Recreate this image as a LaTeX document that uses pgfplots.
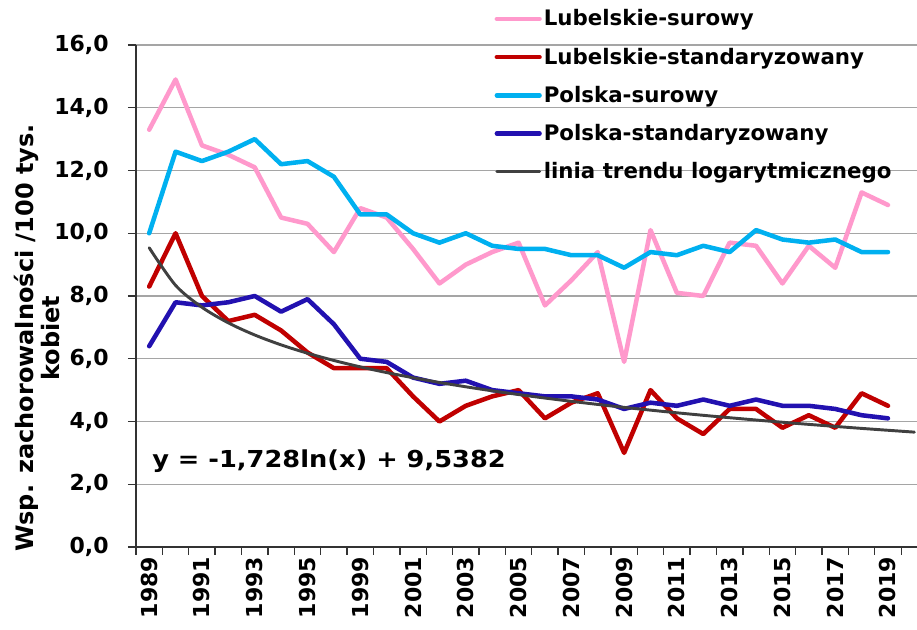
\documentclass[border=0pt]{standalone}
\usepackage{fontspec}
\setmainfont{DejaVu Sans}
\newfontfamily\eqfont{DejaVu Sans}[FakeStretch=1.1]
\usepackage{pgfplots}
\pgfplotsset{compat=1.18}

\definecolor{lubsur}{RGB}{255,153,204}
\definecolor{lubstd}{RGB}{192,0,0}
\definecolor{plsur}{RGB}{0,176,240}
\definecolor{plstd}{RGB}{34,17,176}
\definecolor{trendc}{RGB}{64,64,64}
\definecolor{gridc}{RGB}{165,165,165}
\newcommand{\chartfont}{\fontsize{16.5pt}{18.75pt}\selectfont\bfseries}

% idx 0 = 1989 ... idx 28 = 2019
\pgfplotstableread{
idx lubsur lubstd plsur plstd
0  13.3 8.3  10.0 6.4
1  14.9 10.0 12.6 7.8
2  12.8 8.0  12.3 7.7
3  12.5 7.2  12.6 7.8
4  12.1 7.4  13.0 8.0
5  10.5 6.9  12.2 7.5
6  10.3 6.2  12.3 7.9
7  9.4  5.7  11.8 7.1
8  10.8 5.7  10.6 6.0
9  10.5 5.7  10.6 5.9
10 9.5  4.8  10.0 5.4
11 8.4  4.0  9.7  5.2
12 9.0  4.5  10.0 5.3
13 9.4  4.8  9.6  5.0
14 9.7  5.0  9.5  4.9
15 7.7  4.1  9.5  4.8
16 8.5  4.6  9.3  4.8
17 9.4  4.9  9.3  4.7
18 5.9  3.0  8.9  4.4
19 10.1 5.0  9.4  4.6
20 8.1  4.1  9.3  4.5
21 8.0  3.6  9.6  4.7
22 9.7  4.4  9.4  4.5
23 9.6  4.4  10.1 4.7
24 8.4  3.8  9.8  4.5
25 9.6  4.2  9.7  4.5
26 8.9  3.8  9.8  4.4
27 11.3 4.9  9.4  4.2
28 10.9 4.5  9.4  4.1
}\datatable

% logarithmic trend line values, y = -1.728 ln(x) + 9.5382
\pgfplotstableread{
idx trend
0  9.538
1  8.340
2  7.640
3  7.143
4  6.757
5  6.442
6  6.176
7  5.945
8  5.741
9  5.559
10 5.395
11 5.244
12 5.106
13 4.978
14 4.859
15 4.747
16 4.642
17 4.544
18 4.450
19 4.362
20 4.277
21 4.197
22 4.120
23 4.047
24 3.976
25 3.908
26 3.843
27 3.780
28 3.720
29 3.661
}\trendtable

\begin{document}
\begin{tikzpicture}
\begin{axis}[
    name=ax,
    scale only axis,
    width=585.75pt, height=376.5pt,
    xmin=-0.5, xmax=29.1,
    ymin=0, ymax=16,
    clip=false,
    axis x line*=bottom, axis y line*=left,
    axis line style={black!80, line width=1pt},
    tick style={black!80, line width=1pt},
    major tick length=6pt,
    tick align=outside,
    ytick={0,2,...,16},
    ymajorgrids,
    grid style={gridc, line width=1pt},
    yticklabel style={font=\chartfont, xshift=-11pt,
        /pgf/number format/.cd, fixed, fixed zerofill, precision=1, use comma, assume math mode=true},
    xtick={-0.5,0.5,...,28.5},
    xticklabels={},
    extra x ticks={0,2,...,28},
    extra x tick labels={1989,1991,1993,1995,1999,2001,2003,2005,2007,2009,2011,2013,2015,2017,2019},
    extra x tick style={major tick length=0pt,
        xticklabel style={font=\chartfont, yshift=-4pt, rotate=90, anchor=east}},
    legend style={at={(axis cs:12.93,17.45)}, anchor=north west, draw=none, fill=none,
        font=\fontsize{16pt}{18pt}\selectfont\bfseries, row sep=4pt,
        nodes={inner xsep=1.5pt, inner ysep=5.5pt}},
    legend cell align=left,
    legend image code/.code={\draw[#1] (0pt,0pt) -- (32pt,0pt);},
    every axis plot/.append style={line width=3.4pt, line join=round, line cap=round},
]
\addplot[lubsur] table[x=idx, y=lubsur] {\datatable};
\addlegendentry{Lubelskie-surowy}
\addplot[lubstd] table[x=idx, y=lubstd] {\datatable};
\addlegendentry{Lubelskie-standaryzowany}
\addplot[plsur] table[x=idx, y=plsur] {\datatable};
\addlegendentry{Polska-surowy}
\addplot[plstd] table[x=idx, y=plstd] {\datatable};
\addlegendentry{Polska-standaryzowany}
\addplot[trendc, line width=2.2pt, smooth] table[x=idx, y=trend] {\trendtable};
\addlegendentry{linia trendu logarytmicznego}

\node[anchor=base west, inner sep=0pt, font=\eqfont\fontsize{17.5pt}{20pt}\selectfont\bfseries]
    at (axis cs:0.107,2.52) {y = -1,728ln(x) + 9,5382};
\node[rotate=90, align=center, font=\fontsize{18pt}{20pt}\selectfont\bfseries]
    at ([xshift=-74.25pt]rel axis cs:0,0.416) {Wsp. zachorowalności /100 tys.\\kobiet};
\end{axis}
\pgfresetboundingbox
\path ([xshift=-102pt,yshift=-62.25pt]ax.south west) rectangle ([yshift=33.75pt]ax.north east);
\end{tikzpicture}
\end{document}
